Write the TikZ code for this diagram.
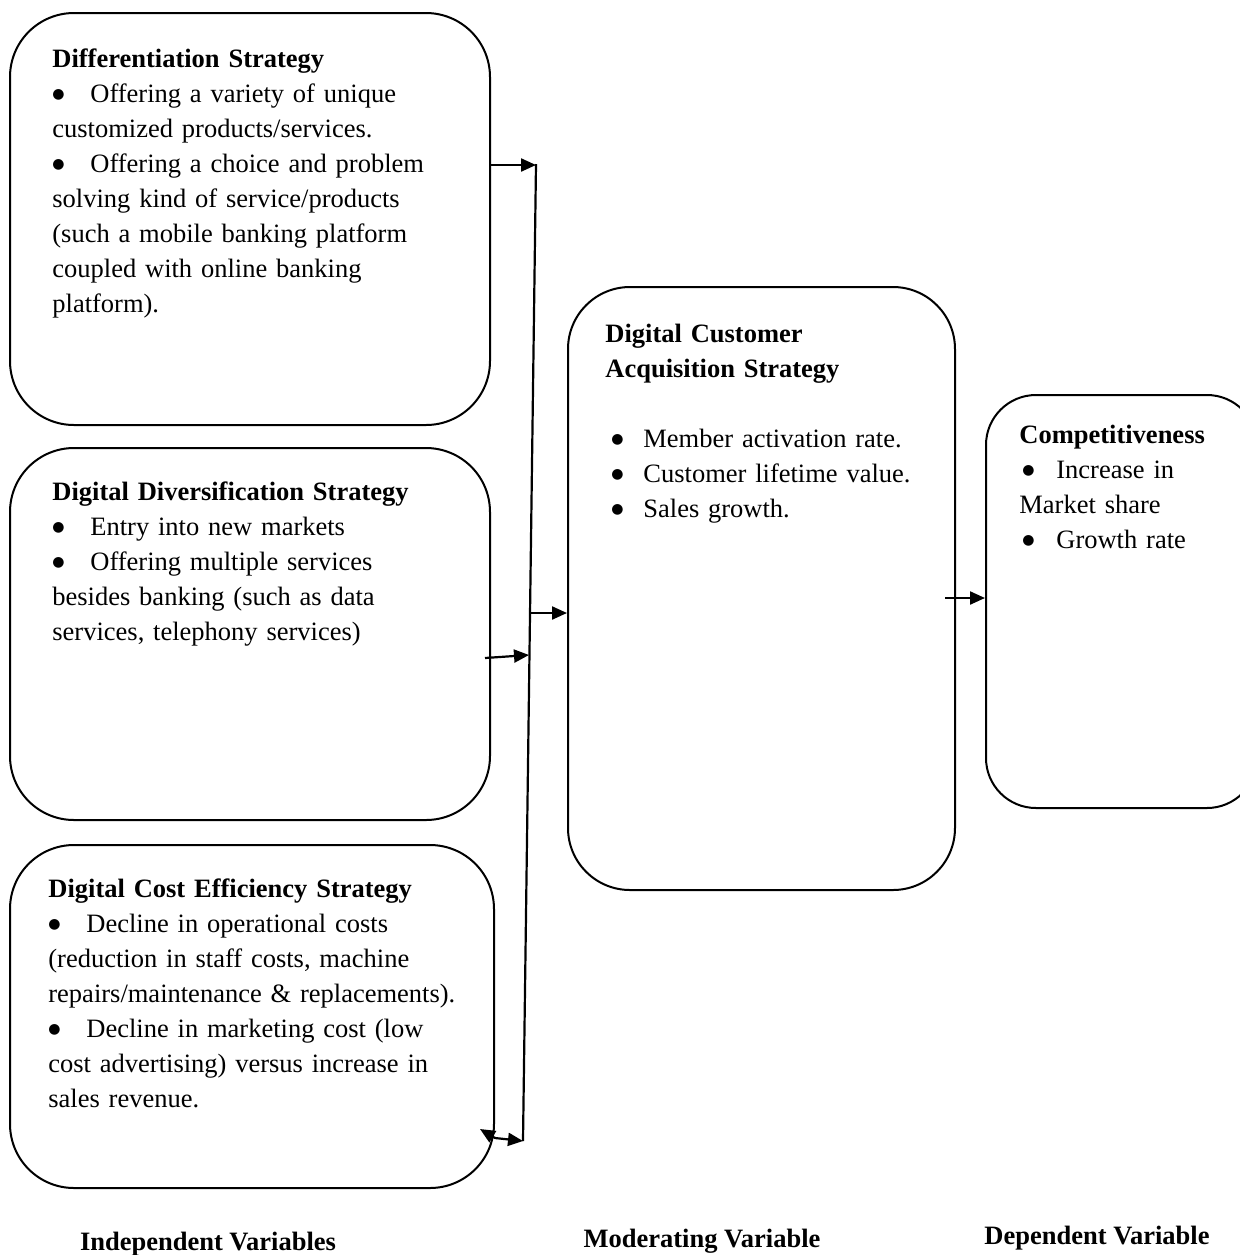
\documentclass[tikz,border=0pt]{standalone}
\usepackage{fontspec}
\setmainfont{Liberation Serif}
\newfontfamily\symfont{DejaVu Sans}
\usetikzlibrary{arrows.meta}
\newcommand\bulx[2]{\hspace*{#1}\makebox[#2][l]{\raisebox{1.8pt}{\symfont\fontsize{7pt}{7pt}\selectfont ●}}}
\begin{document}
\begin{tikzpicture}[x=0.5pt,y=-0.5pt,
  box/.style={draw, line width=1pt, inner sep=0pt},
  txt/.style={anchor=base west, inner sep=0pt, align=left, text width=236pt,
    font=\fontsize{13.25pt}{17.5pt}\selectfont},
  lab/.style={anchor=base, inner sep=0pt, font=\fontsize{13.25pt}{17.5pt}\selectfont\bfseries},
  arr/.style={line width=1.1pt, -{Triangle[length=7.5pt,width=6.5pt]}},
  darr/.style={line width=1.1pt, {Triangle[length=7.5pt,width=6.5pt]}-{Triangle[length=7.5pt,width=6.5pt]}},
  trunk/.style={line width=1.1pt}]
\useasboundingbox (0,0) rectangle (1240,1255);
\clip (0,0) rectangle (1240,1255);
% boxes
\node[box, rounded corners=32pt, minimum width=240pt, minimum height=206pt] (b1) at (250,219) {};
\node[box, rounded corners=32pt, minimum width=240pt, minimum height=186pt] (b2) at (250,634) {};
\node[box, rounded corners=32pt, minimum width=242pt, minimum height=171.5pt] (b3) at (252,1016.5) {};
\node[box, rounded corners=31pt, minimum width=193.5pt, minimum height=301.5pt] (b4) at (761.5,588.5) {};
\node[box, rounded corners=25pt, minimum width=135.5pt, minimum height=206.5pt] (b5) at (1121.5,601.5) {};
% texts
\node[txt] (t1) at (52,67) {\textbf{Differentiation Strategy}\\
\bulx{0pt}{19pt}Offering a variety of unique\\
customized products/services.\\
\bulx{0pt}{19pt}Offering a choice and problem\\
solving kind of service/products\\
(such a mobile banking platform\\
coupled with online banking\\
platform).};
\node[txt] (t2) at (52,500) {\textbf{Digital Diversification Strategy}\\
\bulx{0pt}{19pt}Entry into new markets\\
\bulx{0pt}{19pt}Offering multiple services\\
besides banking (such as data\\
services, telephony services)};
\node[txt] (t3) at (48,897) {\textbf{Digital Cost Efficiency Strategy}\\
\bulx{0pt}{19pt}Decline in operational costs\\
(reduction in staff costs, machine\\
repairs/maintenance \& replacements).\\
\bulx{0pt}{19pt}Decline in marketing cost (low\\
cost advertising) versus increase in\\
sales revenue.};
\node[txt, text width=170pt] (t4) at (605,342) {\textbf{Digital Customer}\\
\textbf{Acquisition Strategy}\\
\mbox{}\\
\bulx{3pt}{16pt}Member activation rate.\\
\bulx{3pt}{16pt}Customer lifetime value.\\
\bulx{3pt}{16pt}Sales growth.};
\node[txt, text width=120pt] (t5) at (1019,443) {\textbf{Competitiveness}\\
\bulx{1.5pt}{17pt}Increase in\\
Market share\\
\bulx{1.5pt}{17pt}Growth rate};
% labels
\node[lab] (l1) at (208,1250) {Independent Variables};
\node[lab] (l2) at (702,1247) {Moderating Variable};
\node[lab] (l3) at (1097,1244) {Dependent Variable};
% connectors
\coordinate (j1) at (536,165);
\coordinate (j2) at (529,655);
\coordinate (jm) at (530,613);
\coordinate (j3) at (523,1141);
\coordinate (s2) at (485,658);
\coordinate (c3a) at (480,1129);
\coordinate (c3b) at (495,1138);
\coordinate (k4) at (945,598);
\draw[arr] (b1.east |- j1) -- (j1);
\draw[trunk] ([yshift=0.5pt]j1) -- (j3);
\draw[arr] (s2) -- (j2);
\draw[arr] (jm) -- (b4.west |- jm);
\draw[darr] (c3a) -- (c3b) -- (j3);
\draw[arr] (k4) -- (b5.west |- k4);
\end{tikzpicture}
\end{document}
